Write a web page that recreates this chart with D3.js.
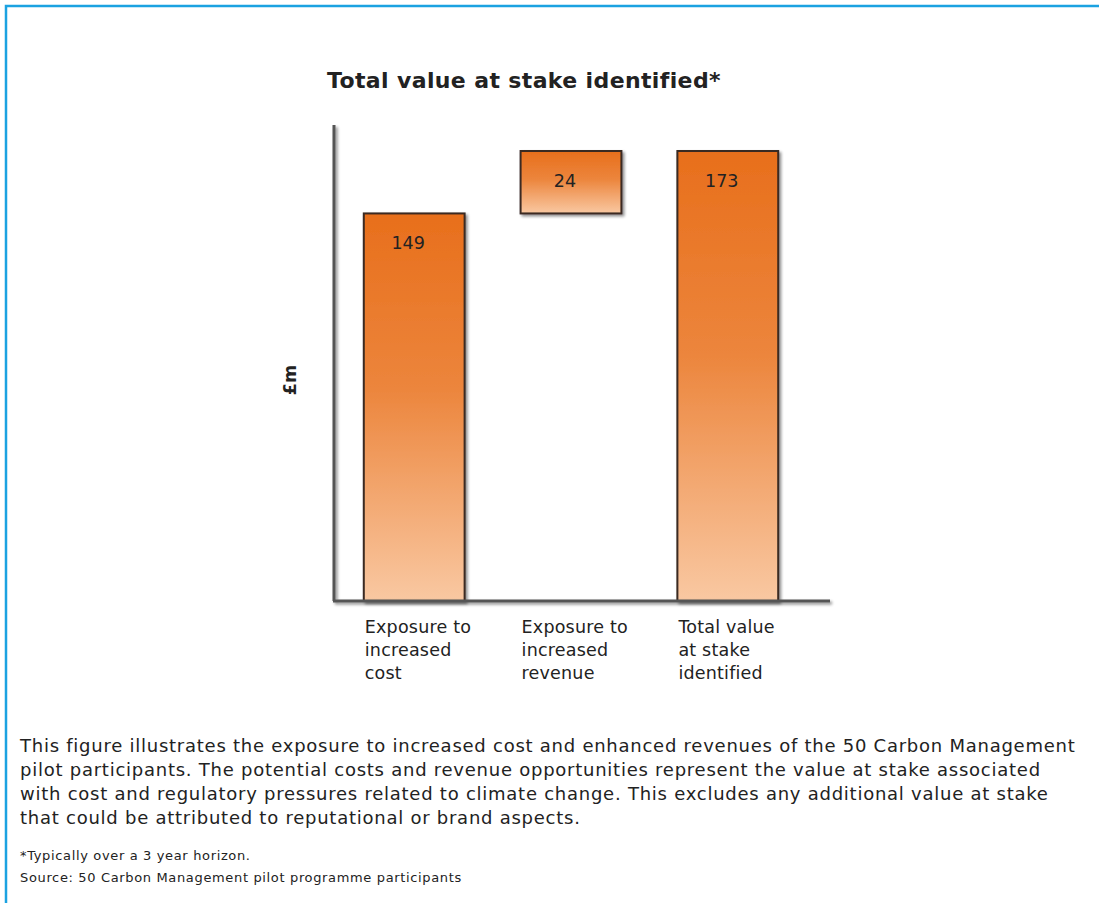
<!DOCTYPE html>
<html>
<head>
<meta charset="utf-8">
<script src="https://cdn.jsdelivr.net/npm/d3@7"></script>
<style>
  body { margin: 0; background: #fff; }
  text { font-family: "DejaVu Sans", Verdana, sans-serif; fill: #222; }
</style>
</head>
<body>
<div id="chart"></div>
<script>
// ---- data ----
var categories = ["cost", "revenue", "total"];
var categoryLines = [
    ["Exposure to", "increased", "cost"],
    ["Exposure to", "increased", "revenue"],
    ["Total value", "at stake", "identified"]
];
var values = [149, 24, 173];
var barKinds = ["step", "step", "total"];   // waterfall: steps stack, total starts at 0
var yMax = 183;

var bodyLines = [
    "This figure illustrates the exposure to increased cost and enhanced revenues of the 50 Carbon Management",
    "pilot participants. The potential costs and revenue opportunities represent the value at stake associated",
    "with cost and regulatory pressures related to climate change. This excludes any additional value at stake",
    "that could be attributed to reputational or brand aspects."
];
var noteLines = [
    "*Typically over a 3 year horizon.",
    "Source: 50 Carbon Management pilot programme participants"
];

var W = 1099, H = 903;

var svg = d3.select("#chart").append("svg")
    .attr("width", W)
    .attr("height", H);

var defs = svg.append("defs");

var grad = defs.append("linearGradient")
    .attr("id", "barGrad")
    .attr("x1", 0).attr("y1", 0).attr("x2", 0).attr("y2", 1);
grad.append("stop").attr("offset", "0%").attr("stop-color", "#e86f1c");
grad.append("stop").attr("offset", "45%").attr("stop-color", "#ec853c");
grad.append("stop").attr("offset", "100%").attr("stop-color", "#f9c8a2");

var shadow = defs.append("filter").attr("id", "shadow")
    .attr("x", "-20%").attr("y", "-20%").attr("width", "140%").attr("height", "140%");
shadow.append("feGaussianBlur").attr("in", "SourceAlpha").attr("stdDeviation", 1.5).attr("result", "b");
shadow.append("feOffset").attr("in", "b").attr("dx", 2).attr("dy", 2).attr("result", "o");
shadow.append("feComponentTransfer").attr("in", "o").attr("result", "s")
    .append("feFuncA").attr("type", "linear").attr("slope", 0.45);
var merge = shadow.append("feMerge");
merge.append("feMergeNode").attr("in", "s");
merge.append("feMergeNode").attr("in", "SourceGraphic");

// blue frame (top and left)
svg.append("path")
    .attr("d", "M6," + H + "V6H" + W)
    .attr("fill", "none")
    .attr("stroke", "#1ba2e1")
    .attr("stroke-width", 2.5);

// ---- scales ----
var x = d3.scaleBand()
    .domain(categories)
    .range([334, 808])
    .paddingInner(0.357)
    .paddingOuter(0.19);

var y = d3.scaleLinear()
    .domain([0, yMax])
    .range([601, 125]);

// waterfall bases
var running = 0;
var bars = values.map(function(v, i) {
    var base = barKinds[i] === "total" ? 0 : running;
    if (barKinds[i] !== "total") running += v;
    return { key: categories[i], base: base, top: base + v, value: v };
});

// title
svg.append("text")
    .attr("x", 327)
    .attr("y", 88)
    .attr("font-size", 22)
    .attr("font-weight", "bold")
    .attr("letter-spacing", 0.37)
    .text("Total value at stake identified*");

// bars
svg.append("g")
    .selectAll("rect")
    .data(bars)
    .enter()
    .append("rect")
    .attr("x", d => x(d.key))
    .attr("y", d => y(d.top))
    .attr("width", x.bandwidth())
    .attr("height", d => y(d.base) - y(d.top))
    .attr("fill", "url(#barGrad)")
    .attr("stroke", "#3a2a22")
    .attr("stroke-width", 2)
    .attr("filter", "url(#shadow)");

// value labels
svg.append("g")
    .selectAll("text")
    .data(bars)
    .enter()
    .append("text")
    .attr("x", d => x(d.key) + x.bandwidth() / 2 - 6)
    .attr("y", d => y(d.top) + 36)
    .attr("text-anchor", "middle")
    .attr("font-size", 17.5)
    .text(d => d.value);

// axes (plain lines, no ticks)
var axisG = svg.append("g").attr("filter", "url(#shadow)");
axisG.append("line")
    .attr("x1", 334).attr("x2", 334)
    .attr("y1", y(yMax)).attr("y2", y(0))
    .attr("stroke", "#555").attr("stroke-width", 3);
axisG.append("line")
    .attr("x1", 333).attr("x2", 830)
    .attr("y1", y(0)).attr("y2", y(0))
    .attr("stroke", "#555").attr("stroke-width", 3);

// category labels
var catG = svg.append("g")
    .selectAll("text")
    .data(categories)
    .enter()
    .append("text")
    .attr("x", d => x(d) + 1)
    .attr("y", 633)
    .attr("font-size", 17.5)
    .attr("letter-spacing", 0.2);
catG.selectAll("tspan")
    .data((d, i) => categoryLines[i])
    .enter()
    .append("tspan")
    .attr("x", function() { return d3.select(this.parentNode).attr("x"); })
    .attr("dy", (d, i) => i === 0 ? 0 : 23)
    .text(d => d);

// y axis title
svg.append("text")
    .attr("transform", "translate(296,380) rotate(-90)")
    .attr("text-anchor", "middle")
    .attr("font-size", 17.5)
    .attr("font-weight", "bold")
    .text("£m");

// caption
svg.append("g")
    .selectAll("text")
    .data(bodyLines)
    .enter()
    .append("text")
    .attr("x", 20)
    .attr("y", (d, i) => 752 + i * 24)
    .attr("font-size", 18)
    .attr("letter-spacing", 0.75)
    .text(d => d);

svg.append("g")
    .selectAll("text")
    .data(noteLines)
    .enter()
    .append("text")
    .attr("x", 20)
    .attr("y", (d, i) => 860 + i * 22)
    .attr("font-size", 13)
    .attr("letter-spacing", 0.65)
    .text(d => d);
</script>
</body>
</html>
